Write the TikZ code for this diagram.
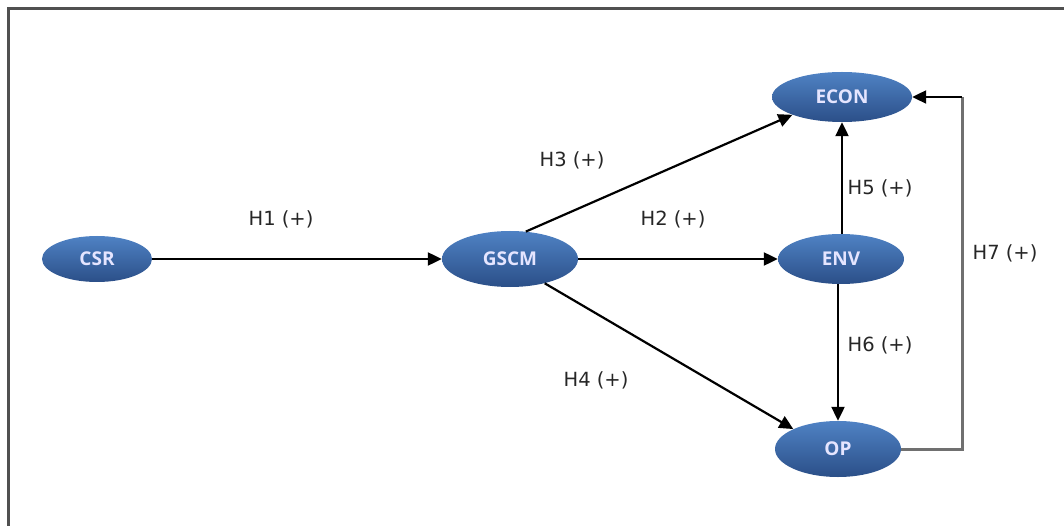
\documentclass[tikz,border=0pt]{standalone}
\usepackage{fontspec}
\setmainfont{Open Sans}
\newfontfamily\labelfont{DejaVu Sans}
\usetikzlibrary{arrows.meta,shapes.geometric,shadows}
\definecolor{nodetop}{HTML}{4F82C4}
\definecolor{nodebot}{HTML}{2B4F88}
\definecolor{framegray}{HTML}{505050}
\definecolor{loopgray}{HTML}{707070}
\tikzset{
  latent/.style={ellipse, minimum width=#1, minimum height=50pt, inner sep=0pt,
    top color=nodetop, bottom color=nodebot, draw=none,
    text=white!90!blue, font=\fontsize{19}{21}\selectfont\bfseries},
  conn/.style={-{Triangle[length=14pt,width=13pt]}, line width=2.2pt, black},
  hlabel/.style={font=\labelfont\fontsize{19.5}{22}\selectfont, text=black!85}
}
\begin{document}
\begin{tikzpicture}[x=1pt,y=-1pt]
\useasboundingbox (0,0) rectangle (1064,526);
\draw[framegray, line width=3pt] (8,540) -- (8,9) -- (1080,9);
\node[latent=110pt, minimum height=46pt] (csr) at (97,259) {CSR};
\node[latent=136pt, minimum height=56pt] (gscm) at (510,259) {GSCM};
\node[latent=140pt] (econ) at (842,97) {ECON};
\node[latent=126pt] (env) at (841,259) {ENV};
\node[latent=126pt, minimum height=56pt] (op) at (838,449) {OP};
\coordinate (c1) at (962,449);
\coordinate (c2) at (962,97);
\draw[conn] (csr.east) -- (gscm.west);
\draw[conn] (gscm.east) -- (env.west);
\draw[conn] (gscm.60) -- (econ.south west);
\draw[conn] (gscm.-35) -- (op.north west);
\draw[conn] (env.north -| econ.south) -- (econ.south);
\draw[conn] (env.south -| op.north) -- (op.north);
\draw[line width=3pt, loopgray] (op.east) -- (c1) -- (c2);
\draw[conn] (c2) -- (econ.east);
\node[hlabel] (h1) at (281,219) {H1 (+)};
\node[hlabel] (h2) at (673,219) {H2 (+)};
\node[hlabel] (h3) at (572,160) {H3 (+)};
\node[hlabel] (h4) at (596,380) {H4 (+)};
\node[hlabel] (h5) at (880,188) {H5 (+)};
\node[hlabel] (h6) at (880,345) {H6 (+)};
\node[hlabel] (h7) at (1005,253) {H7 (+)};
\end{tikzpicture}
\end{document}
